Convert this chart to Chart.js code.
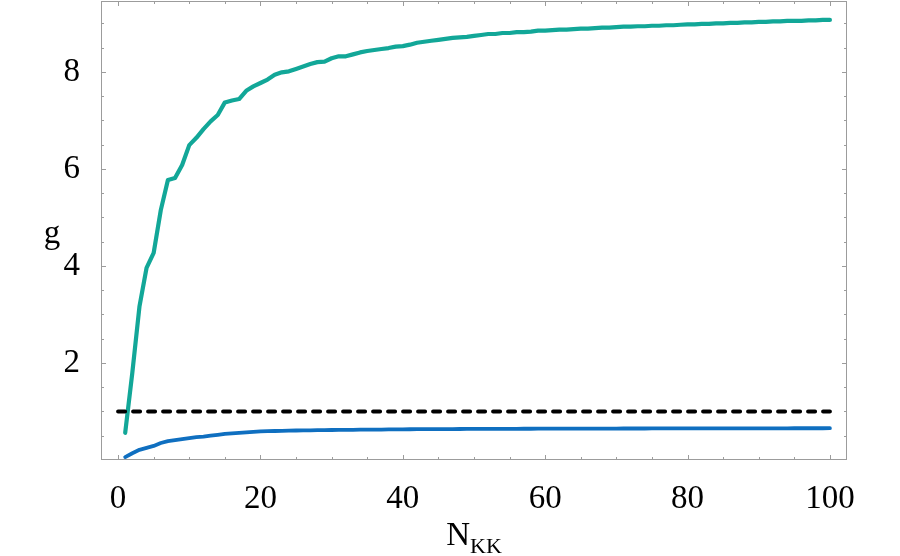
<!DOCTYPE html>
<html>
<head>
<meta charset="utf-8">
<script src="https://cdn.jsdelivr.net/npm/chart.js@4"></script>
<style>
  body { margin: 0; background: #fff; }
  #wrap { width: 900px; height: 556px; }
</style>
</head>
<body>
<div id="wrap"><canvas id="gChart" width="900" height="556"></canvas></div>
<script>
// N_KK values (x axis)
const nKK = [
  1, 2, 3, 4, 5, 6, 7, 8, 9, 10, 11, 12, 13, 14, 15, 16, 17, 18, 19, 20,
  21, 22, 23, 24, 25, 26, 27, 28, 29, 30, 31, 32, 33, 34, 35, 36, 37, 38, 39, 40,
  41, 42, 43, 44, 45, 46, 47, 48, 49, 50, 51, 52, 53, 54, 55, 56, 57, 58, 59, 60,
  61, 62, 63, 64, 65, 66, 67, 68, 69, 70, 71, 72, 73, 74, 75, 76, 77, 78, 79, 80,
  81, 82, 83, 84, 85, 86, 87, 88, 89, 90, 91, 92, 93, 94, 95, 96, 97, 98, 99, 100
];

// upper (teal) curve
const gUpper = [
  0.56, 1.80, 3.16, 3.96, 4.27, 5.15, 5.77, 5.81, 6.08, 6.49,
  6.64, 6.82, 6.98, 7.11, 7.37, 7.41, 7.44, 7.61, 7.70, 7.77,
  7.84, 7.94, 7.99, 8.01, 8.06, 8.11, 8.16, 8.20, 8.21, 8.28,
  8.32, 8.32, 8.36, 8.40, 8.43, 8.45, 8.47, 8.49, 8.52, 8.53,
  8.56, 8.60, 8.62, 8.64, 8.66, 8.68, 8.70, 8.71, 8.72, 8.74,
  8.76, 8.78, 8.78, 8.80, 8.80, 8.82, 8.82, 8.83, 8.85, 8.85,
  8.86, 8.87, 8.87, 8.88, 8.89, 8.89, 8.90, 8.91, 8.91, 8.92,
  8.93, 8.93, 8.94, 8.94, 8.95, 8.95, 8.96, 8.96, 8.97, 8.98,
  8.98, 8.99, 8.99, 9.00, 9.00, 9.01, 9.01, 9.02, 9.02, 9.03,
  9.03, 9.04, 9.04, 9.05, 9.05, 9.05, 9.06, 9.06, 9.07, 9.07
];

// lower (blue) curve
const gLower = [
  0.06, 0.14, 0.21, 0.25, 0.29, 0.35, 0.39, 0.41, 0.43, 0.45,
  0.47, 0.48, 0.50, 0.52, 0.54, 0.55, 0.56, 0.57, 0.58, 0.59,
  0.594, 0.598, 0.602, 0.605, 0.608, 0.610, 0.612, 0.614, 0.616, 0.618,
  0.620, 0.621, 0.622, 0.624, 0.625, 0.627, 0.628, 0.630, 0.631, 0.632,
  0.634, 0.635, 0.636, 0.636, 0.637, 0.638, 0.638, 0.639, 0.640, 0.640,
  0.641, 0.641, 0.642, 0.642, 0.643, 0.643, 0.644, 0.644, 0.645, 0.645,
  0.645, 0.646, 0.646, 0.646, 0.647, 0.647, 0.647, 0.648, 0.648, 0.648,
  0.649, 0.649, 0.649, 0.649, 0.650, 0.650, 0.650, 0.650, 0.651, 0.651,
  0.651, 0.651, 0.651, 0.652, 0.652, 0.652, 0.652, 0.652, 0.653, 0.653,
  0.653, 0.653, 0.653, 0.653, 0.654, 0.654, 0.654, 0.654, 0.654, 0.655
];

// dashed reference level g = 1
const refN = [0, 100];
const refG = [1, 1];

// tick labels
const xTicks = [0, 20, 40, 60, 80, 100];
const yTicks = [2, 4, 6, 8];

const SERIF = '"Liberation Serif", "Times New Roman", serif';
const FRAME = '#9c9c9c';

const pts = (xs, ys) => xs.map((x, i) => ({ x: x, y: ys[i] }));

// Mathematica-style frame: inward ticks on all four sides + axis titles
const framePlugin = {
    id: 'frame',
    afterDraw(chart) {
        const { ctx, chartArea: a, scales } = chart;
        const xs = scales.x, ys = scales.y;
        ctx.save();
        ctx.strokeStyle = FRAME;
        ctx.lineWidth = 1;
        ctx.strokeRect(a.left + 0.5, a.top + 0.5, a.right - a.left - 1, a.bottom - a.top - 1);

        ctx.beginPath();
        // x ticks every 5, major every 20
        for (let v = 0; v <= 100; v += 5) {
            const px = Math.round(xs.getPixelForValue(v)) + 0.5;
            const len = v % 20 === 0 ? 5 : 3;
            ctx.moveTo(px, a.bottom); ctx.lineTo(px, a.bottom - len);
            ctx.moveTo(px, a.top); ctx.lineTo(px, a.top + len);
        }
        // y ticks every 0.5, major every 2
        for (let v = 0.5; v <= 9.0; v += 0.5) {
            const py = Math.round(ys.getPixelForValue(v)) + 0.5;
            const len = v % 2 === 0 ? 5 : 3;
            ctx.moveTo(a.left, py); ctx.lineTo(a.left + len, py);
            ctx.moveTo(a.right, py); ctx.lineTo(a.right - len, py);
        }
        ctx.stroke();

        // axis titles
        ctx.fillStyle = '#000';
        ctx.textBaseline = 'alphabetic';
        ctx.textAlign = 'left';
        ctx.font = '33px ' + SERIF;
        const wN = ctx.measureText('N').width;
        ctx.font = '22px ' + SERIF;
        const wK = ctx.measureText('KK').width;
        const cx = (a.left + a.right) / 2;
        const x0 = cx - (wN + wK) / 2;
        ctx.font = '33px ' + SERIF;
        ctx.fillText('N', x0, 545);
        ctx.font = '22px ' + SERIF;
        ctx.fillText('KK', x0 + wN, 553);

        ctx.font = '33px ' + SERIF;
        ctx.textAlign = 'center';
        ctx.fillText('g', 52, (a.top + a.bottom) / 2 + 12);
        ctx.restore();
    }
};

new Chart(document.getElementById('gChart'), {
    type: 'line',
    data: {
        datasets: [
            {
                data: pts(refN, refG),
                borderColor: '#000',
                borderWidth: 4,
                borderDash: [7, 8],
                borderCapStyle: 'round',
                pointRadius: 0,
                fill: false
            },
            {
                data: pts(nKK, gLower),
                borderColor: '#0f6fc0',
                borderWidth: 3.8,
                borderCapStyle: 'round',
                borderJoinStyle: 'round',
                pointRadius: 0,
                fill: false
            },
            {
                data: pts(nKK, gUpper),
                borderColor: '#12a798',
                borderWidth: 4.2,
                borderCapStyle: 'round',
                borderJoinStyle: 'round',
                pointRadius: 0,
                fill: false
            }
        ]
    },
    options: {
        responsive: false,
        animation: false,
        layout: { autoPadding: false, padding: { left: 0, right: 53, top: 1, bottom: 0 } },
        plugins: { legend: { display: false }, tooltip: { enabled: false } },
        scales: {
            x: {
                type: 'linear',
                min: -2.4,
                max: 102.4,
                grid: { display: false },
                border: { display: false },
                afterBuildTicks: s => { s.ticks = xTicks.map(v => ({ value: v })); },
                afterFit: s => { s.height = 96; s.paddingLeft = 0; s.paddingRight = 0; },
                ticks: {
                    color: '#000',
                    padding: 12,
                    maxRotation: 0,
                    font: { family: SERIF, size: 33 }
                }
            },
            y: {
                type: 'linear',
                min: 0,
                max: 9.46,
                grid: { display: false },
                border: { display: false },
                afterBuildTicks: s => { s.ticks = yTicks.map(v => ({ value: v })); },
                afterFit: s => { s.width = 101; s.paddingTop = 0; s.paddingBottom = 0; },
                ticks: {
                    color: '#000',
                    padding: 13,
                    font: { family: SERIF, size: 33 }
                }
            }
        }
    },
    plugins: [framePlugin]
});
</script>
</body>
</html>
